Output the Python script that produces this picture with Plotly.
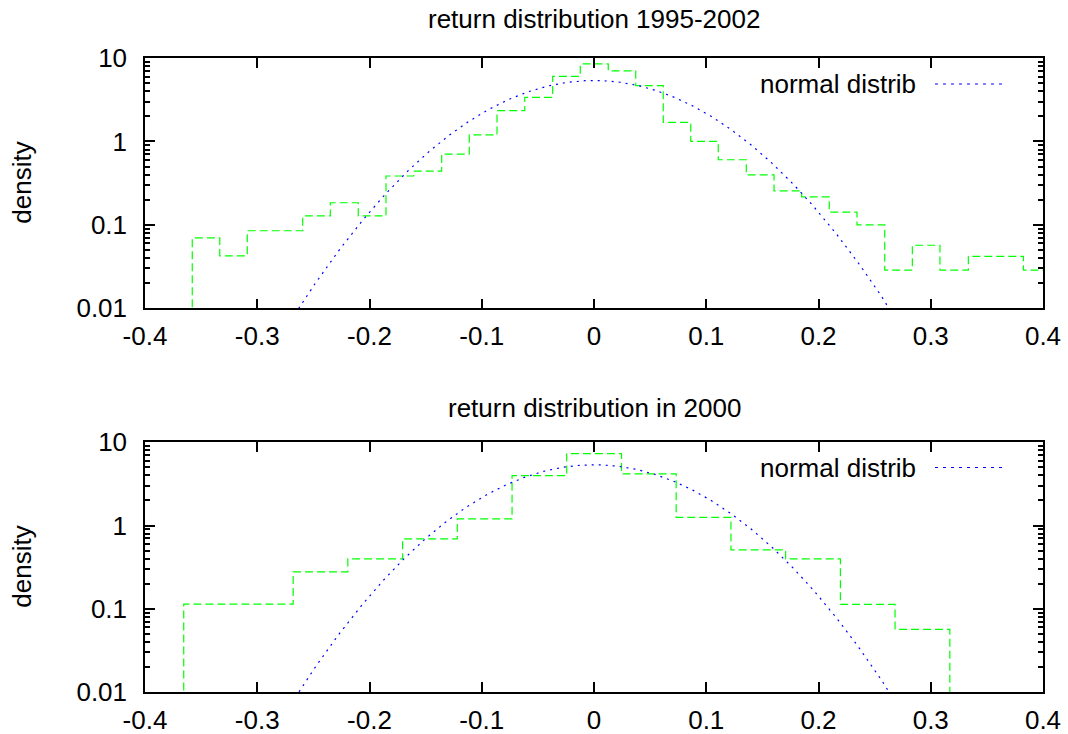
import numpy as np
import plotly.graph_objects as go

# ---- data ----
# histogram 1995-2002: bin left edges (plus final right edge) and densities
edges_9502 = [-0.3579, -0.3334, -0.3089, -0.2842, -0.2595, -0.2349, -0.2100, -0.1853,
              -0.1606, -0.1357, -0.1111, -0.0864, -0.0617, -0.0368, -0.0122, 0.0127,
              0.0372, 0.0617, 0.0862, 0.1107, 0.1357, 0.1604, 0.1850, 0.2096,
              0.2343, 0.2590, 0.2836, 0.3082, 0.3335, 0.3581, 0.3825, 0.4070]
dens_9502 = [0.070, 0.0425, 0.085, 0.085, 0.128, 0.184, 0.128, 0.385,
             0.441, 0.706, 1.20, 2.34, 3.37, 6.03, 8.49, 7.0,
             4.66, 1.69, 1.0, 0.603, 0.398, 0.256, 0.217, 0.142,
             0.100, 0.0286, 0.057, 0.0286, 0.042, 0.042, 0.0286]

# histogram 2000
edges_2000 = [-0.3655, -0.3168, -0.2680, -0.2193, -0.1705, -0.1218, -0.0730, -0.0243,
              0.0245, 0.0732, 0.1220, 0.1707, 0.2195, 0.2682, 0.3170]
dens_2000 = [0.1136, 0.1136, 0.278, 0.398, 0.69, 1.2, 3.97, 7.31,
             4.17, 1.256, 0.511, 0.398, 0.1127, 0.0564]

# fitted normal distribution parameters
mu = 0.0
sigma = 0.0742

x_ticks = [-0.4, -0.3, -0.2, -0.1, 0.0, 0.1, 0.2, 0.3, 0.4]
x_tick_text = ["-0.4", "-0.3", "-0.2", "-0.1", "0", "0.1", "0.2", "0.3", "0.4"]
y_ticks = [0.01, 0.1, 1, 10]
y_tick_text = ["0.01", "0.1", "1", "10"]

titles = ["return distribution 1995-2002", "return distribution in 2000"]
legend_label = "normal distrib"
y_label = "density"

FLOOR = 1e-4
FONT = "Liberation Sans, Arial, sans-serif"
FS = 26

def step_xy(edges, dens):
    x = [edges[0]] + edges[:-1] + [edges[-1], edges[-1]]
    y = [FLOOR] + dens + [dens[-1], FLOOR]
    return x, y

xn = np.linspace(-0.4, 0.4, 801)
yn = np.exp(-0.5 * ((xn - mu) / sigma) ** 2) / (sigma * np.sqrt(2 * np.pi))

fig = go.Figure()
for i, (ed, de) in enumerate([(edges_9502, dens_9502), (edges_2000, dens_2000)]):
    xa = "x" if i == 0 else "x2"
    ya = "y" if i == 0 else "y2"
    hx, hy = step_xy(ed, de)
    fig.add_trace(go.Scatter(x=hx, y=hy, mode="lines", line_shape="hv",
                             line=dict(color="#00ff00", width=1.2, dash="8px,4px"),
                             xaxis=xa, yaxis=ya, showlegend=False, hoverinfo="skip"))
    fig.add_trace(go.Scatter(x=xn, y=yn, mode="lines", name=legend_label,
                             line=dict(color="#0000ff", width=1.2, dash="2px,5px"),
                             xaxis=xa, yaxis=ya, showlegend=False))

axis_common = dict(showline=True, linecolor="black", linewidth=1.5, mirror="ticks",
                   ticks="inside", ticklen=10, tickwidth=1.5, tickcolor="black",
                   showgrid=False, zeroline=False, automargin=False,
                   tickfont=dict(family=FONT, size=FS, color="black"))

top_lo = (692 - 308.3) / 634
bot_hi = (692 - 442.3) / 634

minor_y = dict(ticks="inside", ticklen=5, tickwidth=1.5, tickcolor="black",
               dtick="D1", showgrid=False)

fig.update_layout(
    width=1068, height=734,
    margin=dict(l=145, r=25, t=58, b=42, autoexpand=False),
    paper_bgcolor="white", plot_bgcolor="white",
    showlegend=False,
    xaxis=dict(axis_common, domain=[0, 1], anchor="y", range=[-0.4, 0.4],
               tickvals=x_ticks, ticktext=x_tick_text, ticklabelstandoff=4),
    yaxis=dict(axis_common, domain=[top_lo, 1], anchor="x", type="log", range=[-2, 1],
               tickvals=y_ticks, ticktext=y_tick_text, ticklabelstandoff=11, minor=minor_y),
    xaxis2=dict(axis_common, domain=[0, 1], anchor="y2", range=[-0.4, 0.4],
                tickvals=x_ticks, ticktext=x_tick_text, ticklabelstandoff=4),
    yaxis2=dict(axis_common, domain=[0, bot_hi], anchor="x2", type="log", range=[-2, 1],
                tickvals=y_ticks, ticktext=y_tick_text, ticklabelstandoff=11, minor=minor_y),
)

def py(p):
    return (692 - p) / 634

def px(p):
    return (p - 145) / 898

annotations = []
shapes = []
for title, ty, ly, yc in [(titles[0], 19, 84, 183), (titles[1], 408, 467.5, 567)]:
    annotations.append(dict(text=title, x=0.5, y=py(ty), xref="paper", yref="paper",
                            xanchor="center", yanchor="middle", showarrow=False,
                            font=dict(family=FONT, size=FS, color="black")))
    annotations.append(dict(text=legend_label, x=px(918), y=py(ly), xref="paper", yref="paper",
                            xanchor="right", yanchor="middle", showarrow=False,
                            font=dict(family=FONT, size=FS, color="black")))
    annotations.append(dict(text=y_label, x=px(21.7), y=py(yc), xref="paper", yref="paper",
                            xanchor="center", yanchor="middle", showarrow=False, textangle=-90,
                            font=dict(family=FONT, size=FS, color="black")))
    shapes.append(dict(type="line", xref="paper", yref="paper",
                       x0=px(935), x1=px(1007), y0=py(ly), y1=py(ly),
                       line=dict(color="#0000ff", width=1.2, dash="3px,5px")))

fig.update_layout(annotations=annotations, shapes=shapes)
fig.write_html("out.html")
